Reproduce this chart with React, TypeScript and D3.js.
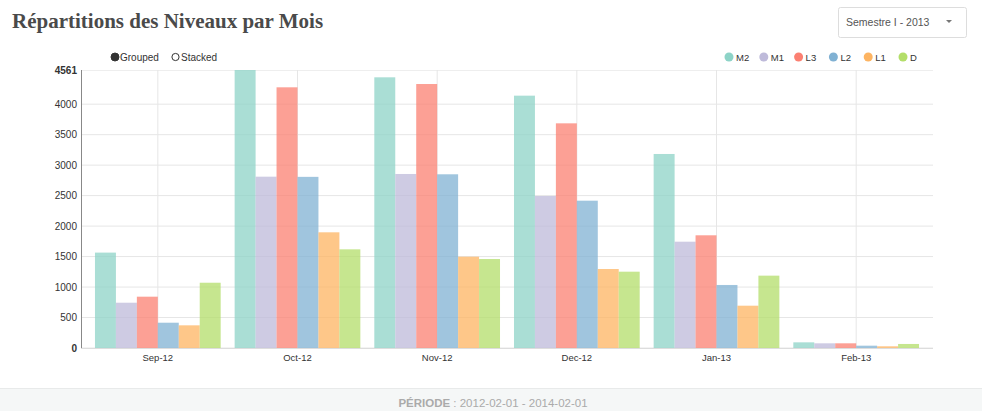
import React from 'react';
import * as d3 from 'd3';

const months = ['Sep-12', 'Oct-12', 'Nov-12', 'Dec-12', 'Jan-13', 'Feb-13'];
const levels = ['M2', 'M1', 'L3', 'L2', 'L1', 'D'];
const colors = ['#8dd3c7', '#bebada', '#fb8072', '#80b1d3', '#fdb462', '#b3de69'];

// one array per level, in month order
const M2 = [1565, 4561, 4441, 4140, 3183, 93];
const M1 = [743, 2811, 2855, 2494, 1744, 77];
const L3 = [842, 4277, 4331, 3686, 1849, 77];
const L2 = [415, 2808, 2850, 2417, 1034, 38];
const L1 = [372, 1898, 1498, 1296, 694, 28];
const D = [1071, 1619, 1460, 1252, 1187, 66];
const series = [M2, M1, L3, L2, L1, D];

const yTicks = [0, 500, 1000, 1500, 2000, 2500, 3000, 3500, 4000];

const W = 982;
const H = 411;
const margin = { top: 70, right: 49, bottom: 63, left: 81 };

const App = () => {
  const innerW = W - margin.left - margin.right;
  const innerH = H - margin.top - margin.bottom;
  const yMax = d3.max(series, s => d3.max(s)) as number;

  const x = d3.scaleBand().domain(months).range([0, innerW]).paddingInner(0.1).paddingOuter(0.1);
  const x1 = d3.scaleBand().domain(levels).range([0, x.bandwidth()]);
  const y = d3.scaleLinear().domain([0, yMax]).range([innerH, 0]);

  const font = '"Liberation Sans", Arial, sans-serif';

  return (
    <svg width={W} height={H} style={{ position: 'absolute', left: 0, top: 0 }} fontFamily={font}>
      <rect width={W} height={H} fill="#fff" />
      <text x={12} y={28} fontFamily='"Liberation Serif", "Times New Roman", serif' fontSize={21} fontWeight={600} fill="#4a4a4a">
        Répartitions des Niveaux par Mois
      </text>

      {/* period selector */}
      <g>
        <rect x={838.5} y={7.5} width={128} height={30} rx={2} fill="#fff" stroke="#ddd" />
        <text x={846} y={26} fontSize={10.5} fill="#555">Semestre I - 2013</text>
        <path d="M946,20 L952,20 L949,23 Z" fill="#777" />
      </g>

      {/* grouped / stacked control */}
      <g fontSize={10} fill="#333">
        <circle cx={115} cy={57} r={4} fill="#333" stroke="#333" />
        <text x={120} y={60.5}>Grouped</text>
        <circle cx={175.5} cy={57} r={3.6} fill="#fff" stroke="#333" />
        <text x={181} y={60.5}>Stacked</text>
      </g>

      {/* legend */}
      <g fontSize={9.5} fill="#333">
        {levels.map((l, i) => (
          <g key={l} transform={`translate(${729 + i * 34.8},57)`}>
            <circle r={4.5} fill={colors[i]} />
            <text x={7} y={3.5}>{l}</text>
          </g>
        ))}
      </g>

      <g transform={`translate(${margin.left},${margin.top})`}>
        {/* horizontal grid */}
        {yTicks.map(t => (
          <line key={t} x1={0} x2={innerW} y1={y(t)} y2={y(t)} stroke="#e6e6e6" />
        ))}
        <line x1={0} x2={innerW} y1={0.5} y2={0.5} stroke="#eee" />
        {/* vertical grid */}
        {months.map(m => (
          <line key={m} x1={(x(m) as number) + x.bandwidth() / 2} x2={(x(m) as number) + x.bandwidth() / 2} y1={0} y2={innerH} stroke="#e6e6e6" />
        ))}

        {/* bars */}
        {months.map((m, mi) => (
          <g key={m} transform={`translate(${x(m)},0)`}>
            {levels.map((l, li) => (
              <rect
                key={l}
                x={x1(l)}
                y={y(series[li][mi])}
                width={x1.bandwidth()}
                height={innerH - y(series[li][mi])}
                fill={colors[li]}
                fillOpacity={0.75}
              />
            ))}
          </g>
        ))}

        {/* x axis */}
        <line x1={0} x2={innerW} y1={innerH + 0.5} y2={innerH + 0.5} stroke="#ddd" />
        {months.map(m => (
          <text key={m} x={(x(m) as number) + x.bandwidth() / 2} y={innerH + 13} textAnchor="middle" fontSize={9.5} fill="#333">
            {m}
          </text>
        ))}

        {/* y axis */}
        <line x1={0.5} x2={0.5} y1={0} y2={innerH} stroke="#888" />
        {yTicks.filter(t => t > 0).map(t => (
          <text key={t} x={-4} y={y(t) + 3.5} textAnchor="end" fontSize={10} fill="#333">
            {t}
          </text>
        ))}
        <text x={-4} y={y(0) + 3.5} textAnchor="end" fontSize={10} fontWeight="bold" fill="#333">0</text>
        <text x={-4} y={y(yMax) + 3.5} textAnchor="end" fontSize={10} fontWeight="bold" fill="#333">{yMax}</text>
      </g>

      {/* footer */}
      <rect x={0} y={389} width={W} height={22} fill="#f5f7f7" />
      <line x1={0} x2={W} y1={388.5} y2={388.5} stroke="#e8eaea" />
      <text x={493} y={407} textAnchor="middle" fontSize={11.5} fill="#aaa">
        <tspan fontWeight="bold">PÉRIODE</tspan> : 2012-02-01 - 2014-02-01
      </text>
    </svg>
  );
};

export default App;
